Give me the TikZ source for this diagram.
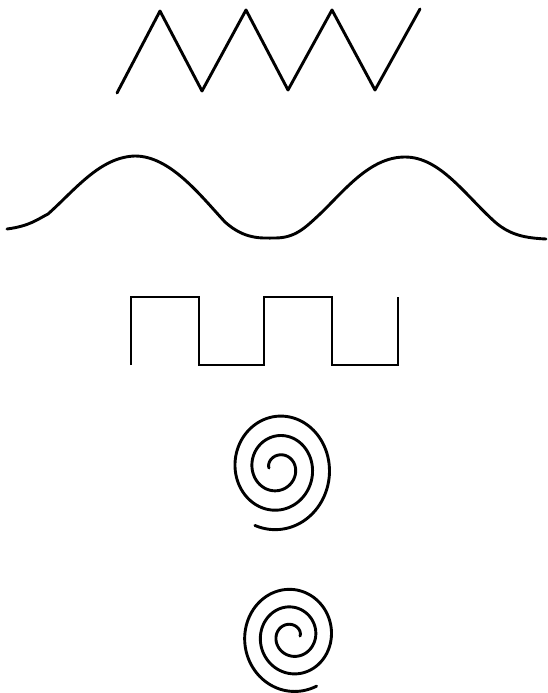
\documentclass[tikz,border=0pt]{standalone}
\begin{document}
\begin{tikzpicture}[x=1pt,y=-1pt,
  stroke/.style={line width=2.9pt,line join=round,line cap=round,black}]
\useasboundingbox (0,0) rectangle (547,693);
% zigzag
\draw[stroke] (117,93) -- (160,11) -- (202,91) -- (246,10) -- (288,90) -- (332,10) -- (375,90) -- (420,9);
% sine-like wave
\draw[stroke] (7,229) .. controls (30,226) and (38,219) .. (48,214)
  .. controls (75,190) and (100,157) .. (135,156)
  .. controls (170,156) and (200,195) .. (225,222)
  .. controls (245,240) and (262,238) .. (275,238)
  .. controls (295,238) and (305,228) .. (320,214)
  .. controls (345,190) and (370,157) .. (405,157)
  .. controls (440,157) and (465,195) .. (495,222)
  .. controls (510,235) and (525,238) .. (546,239);
% square wave
\draw[stroke,line cap=butt,line join=miter] (131,365) -- (131,297) -- (199,297) -- (199,365) -- (264,365) -- (264,297) -- (332,297) -- (332,365) -- (398,365) -- (398,297);
% spiral 1 (clockwise, starts at left)
\draw[stroke] plot[domain=0:1014,samples=400,smooth,variable=\t]
  ({278+(9+2.7*\t*pi/180)*cos(\t+180)},{468+(8+3.1*\t*pi/180)*sin(\t+180)});
% spiral 2 (counter-clockwise, starts at right)
\draw[stroke] plot[domain=0:1018,samples=400,smooth,variable=\t]
  ({292+(8+2.5*\t*pi/180)*cos(\t)},{636-(7+2.8*\t*pi/180)*sin(\t)});
\end{tikzpicture}
\end{document}
